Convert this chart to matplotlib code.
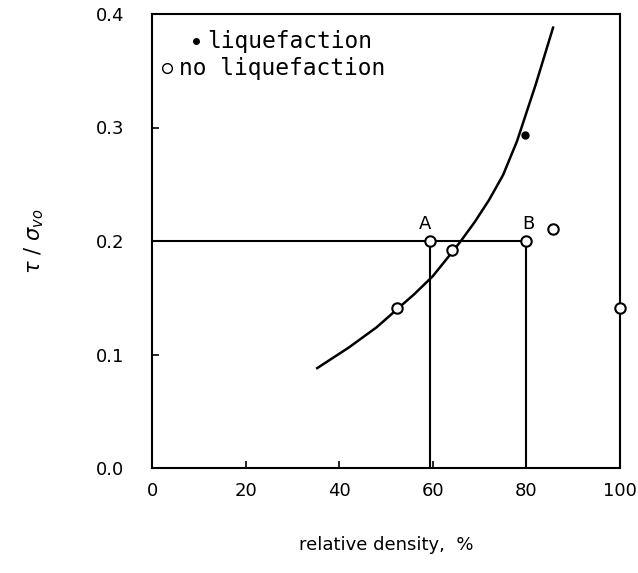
import matplotlib
matplotlib.use("Agg")
import matplotlib.pyplot as plt

# no liquefaction (open circles)
no_liq_x = [59.5, 64.1, 52.4, 79.9, 85.7, 100.0]
no_liq_y = [0.200, 0.192, 0.141, 0.200, 0.211, 0.141]

# liquefaction (filled)
liq_x = [79.7]
liq_y = [0.293]

# boundary curve
curve_x = [35.3, 42.0, 48.0, 52.4, 56.0, 60.0, 64.1, 66.0, 69.0, 72.0, 75.0, 78.0, 82.0, 85.7]
curve_y = [0.088, 0.106, 0.124, 0.140, 0.153, 0.169, 0.190, 0.200, 0.217, 0.236, 0.258, 0.288, 0.338, 0.388]

xticks = [0, 20, 40, 60, 80, 100]
yticks = [0.0, 0.1, 0.2, 0.3, 0.4]

fig = plt.figure(figsize=(6.38, 5.73), dpi=100)
ax = fig.add_axes([152 / 638, 105 / 573, 468 / 638, 454 / 573])

# guide lines for A and B
ax.plot([0, 80], [0.2, 0.2], color="black", lw=1.5)
ax.plot([59.5, 59.5], [0, 0.2], color="black", lw=1.5)
ax.plot([80, 80], [0, 0.2], color="black", lw=1.5)

ax.plot(curve_x, curve_y, color="black", lw=1.8)

ax.plot(no_liq_x, no_liq_y, "o", ms=7.5, mfc="white", mec="black", mew=1.5,
        clip_on=False, zorder=5)
ax.plot(liq_x, liq_y, "o", ms=5, color="black", zorder=5)

ax.text(58.4, 0.207, "A", fontsize=13, ha="center", va="bottom")
ax.text(80.5, 0.207, "B", fontsize=13, ha="center", va="bottom")

# legend written inside the box
mono = "DejaVu Sans Mono"
ax.plot([9.5], [0.376], "o", ms=4, color="black")
ax.text(11.8, 0.376, "liquefaction", family=mono, fontsize=16.5, va="center")
ax.plot([3.2], [0.352], "o", ms=7, mfc="white", mec="black", mew=1.0)
ax.text(5.8, 0.352, "no liquefaction", family=mono, fontsize=16.5, va="center")

ax.set_xlim(0, 100)
ax.set_ylim(0, 0.4)
ax.set_xticks(xticks)
ax.set_yticks(yticks)
ax.set_xticklabels([str(t) for t in xticks], fontsize=13)
ax.set_yticklabels([f"{t:.1f}" for t in yticks], fontsize=13)
ax.tick_params(direction="in", length=5, width=1.2)
ax.tick_params(axis="x", pad=10)
ax.tick_params(axis="y", pad=20)
for s in ax.spines.values():
    s.set_linewidth(1.5)

ax.set_xlabel("relative density,  %", fontsize=13, labelpad=26)
ax.set_ylabel(r"$\tau\ /\ \sigma_{vo}$", fontsize=15, labelpad=36)

fig.savefig("out.png", dpi=100)
